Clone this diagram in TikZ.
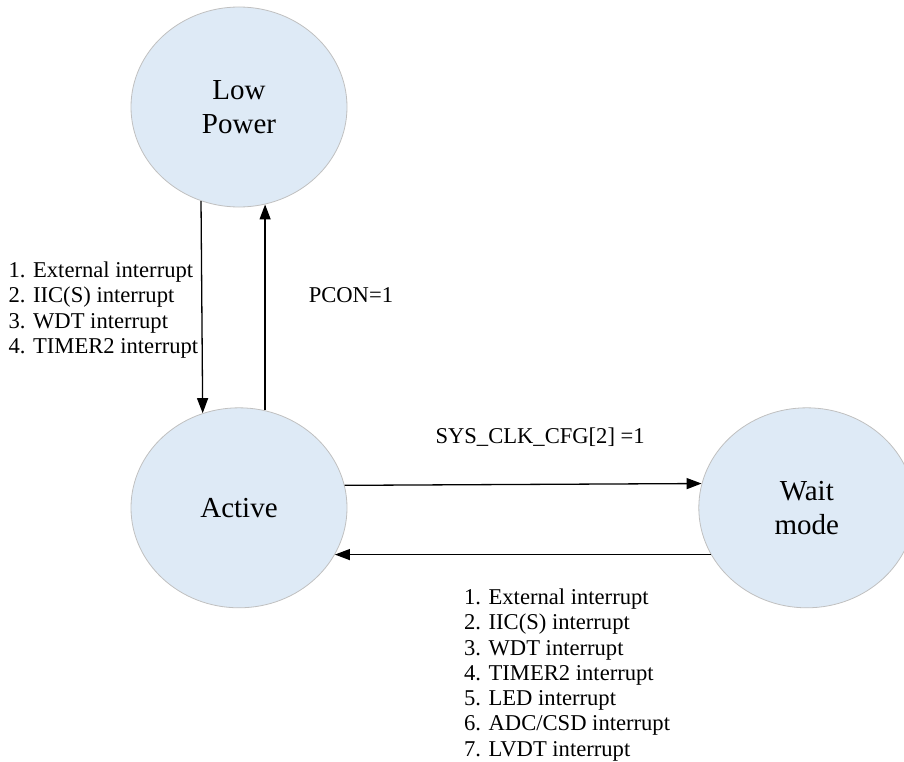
\documentclass[tikz,border=0pt]{standalone}
\usepackage{fontspec}
\setmainfont{Liberation Serif}
\usetikzlibrary{positioning,shapes.geometric,arrows.meta}
\definecolor{tilafill}{RGB}{222,234,246}
\definecolor{tilaraja}{RGB}{192,192,192}
\begin{document}
\begin{tikzpicture} [x=1pt, y=-1pt, auto, node distance=200pt and 351pt,
                    >={Triangle[length=15pt,width=11pt]}, line width=1.3pt,
                    tila/.style={ellipse,draw=tilaraja,line width=0.8pt,fill=tilafill,
                                 minimum width=216pt,minimum height=200pt,inner sep=0pt,
                                 align=center,font=\fontsize{29}{34}\selectfont},
                    teksti/.style={inner sep=0pt,align=left,font=\fontsize{22.6}{25.3}\selectfont}]
\useasboundingbox (0,0) rectangle (904,762);

\node[tila] (LowP) at (239,107) {Low\\Power};
\node[tila] (Act) [below=of LowP] {Active};
\node[tila] (Wait) [right=of Act] {Wait\\mode};

 \path[->, every node/.style={teksti}]
    (LowP.248.5) edge node[left, xshift=-3pt, yshift=-3pt] {1. External interrupt\\2. IIC(S) interrupt\\3. WDT interrupt\\4. TIMER2 interrupt} (Act.111.5)
    (Act.75) edge node[right, xshift=43pt, yshift=12.5pt] {PCON=1} (LowP.285)
    (Act.12.9) edge node[above=37pt, xshift=17pt] {SYS\_CLK\_CFG[2] =1} (Wait.167.1)
    (Wait.206.25) edge node[pos=0.658, below right=33.5pt and 0pt] {1. External interrupt\\2. IIC(S) interrupt\\3. WDT interrupt\\4. TIMER2 interrupt\\5. LED interrupt\\6. ADC/CSD interrupt\\7. LVDT interrupt} (Act.-26.25);
\end{tikzpicture}
\end{document}
